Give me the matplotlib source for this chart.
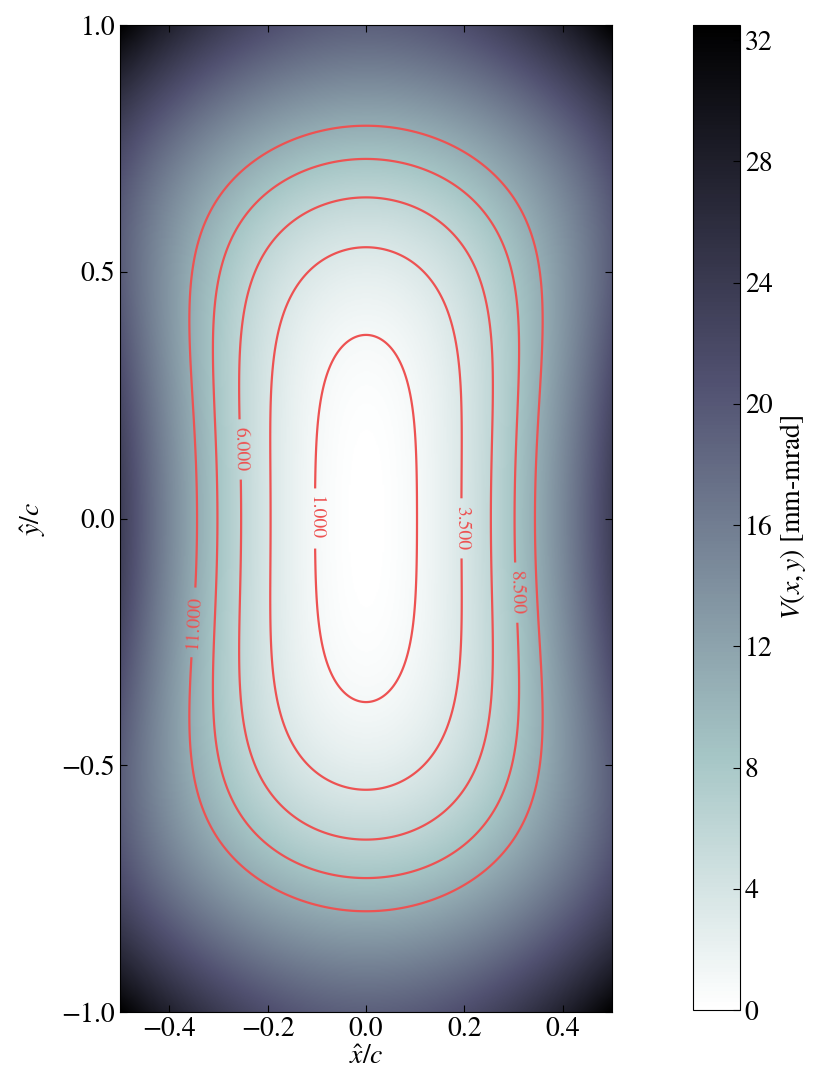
import numpy as np
import matplotlib
matplotlib.use("agg")
import matplotlib.pyplot as plt

plt.rcParams["font.family"] = "serif"
plt.rcParams["font.serif"] = ["STIXGeneral", "Liberation Serif", "DejaVu Serif"]
plt.rcParams["mathtext.fontset"] = "stix"
plt.rcParams["xtick.direction"] = "in"
plt.rcParams["ytick.direction"] = "in"
plt.rcParams["xtick.top"] = True
plt.rcParams["ytick.right"] = True

# contour levels drawn in the picture
levels = [1.0, 3.5, 6.0, 8.5, 11.0]

# points (first quadrant, field is symmetric)
pts_x = [0.0, 0.085, 0.10, 0.10,
         0.0, 0.089, 0.156, 0.189, 0.190,
         0.0, 0.169, 0.240, 0.252, 0.249,
         0.0, 0.266, 0.303, 0.308, 0.299,
         0.0, 0.161, 0.337, 0.362, 0.356, 0.337]
pts_y = [0.35, 0.25, 0.11, 0.0,
         0.54, 0.518, 0.422, 0.25, 0.0,
         0.65, 0.584, 0.50, 0.25, 0.0,
         0.73, 0.584, 0.50, 0.25, 0.0,
         0.793, 0.761, 0.584, 0.50, 0.28, 0.0]
pts_v = [1.0] * 4 + [3.5] * 5 + [6.0] * 5 + [8.5] * 5 + [11.0] * 6

# values
edge_x = [0.5, 0.0, 0.5, 0.5]
edge_y = [0.0, 1.0, 1.0, 0.5]
edge_v = [23.0, 19.0, 32.5, 20.0]

cbar_ticks = [0, 4, 8, 12, 16, 20, 24, 28, 32]
x_ticks = [-0.4, -0.2, 0.0, 0.2, 0.4]
y_ticks = [-1.0, -0.5, 0.0, 0.5, 1.0]


def terms(x, y):
    x2, y2 = x ** 2, y ** 2
    return np.stack([x2, x2 * y2, x2 * y2 ** 2, x2 ** 2, y2, y2 ** 2, y2 ** 3], axis=-1)


sx = np.array(pts_x + edge_x)
sy = np.array(pts_y + edge_y)
sv = np.array(pts_v + edge_v)
coef, *_ = np.linalg.lstsq(terms(sx, sy), sv, rcond=None)

xg = np.linspace(-0.5, 0.5, 401)
yg = np.linspace(-1.0, 1.0, 801)
X, Y = np.meshgrid(xg, yg)
V = terms(X, Y) @ coef

fig = plt.figure(figsize=(8.21, 10.78), dpi=100)
ax = fig.add_axes([120 / 821, 66 / 1078, 492 / 821, 987 / 1078])
cax = fig.add_axes([693 / 821, 68 / 1078, 47 / 821, 985 / 1078])

im = ax.imshow(V, extent=[-0.5, 0.5, -1.0, 1.0], origin="lower", cmap="bone_r",
               vmin=0, vmax=V.max(), aspect="auto", interpolation="bilinear")
cs = ax.contour(X, Y, V, levels=levels, colors=[(0.93, 0.32, 0.32)], linewidths=1.6)
ax.clabel(cs, fmt="%.3f", fontsize=14, inline=True, inline_spacing=8,
          manual=[(-0.1, 0.0), (0.19, -0.02), (-0.25, 0.14), (0.31, -0.15), (-0.36, -0.21)])

ax.set_xlim(-0.5, 0.5)
ax.set_ylim(-1.0, 1.0)
ax.set_xticks(x_ticks)
ax.set_yticks(y_ticks)
ax.tick_params(labelsize=20, length=5)
ax.set_xlabel(r"$\hat{x}/c$", fontsize=20, labelpad=2)
ax.set_ylabel(r"$\hat{y}/c$", fontsize=20, labelpad=10)

cb = fig.colorbar(im, cax=cax)
cb.set_ticks(cbar_ticks)
cb.ax.tick_params(labelsize=20, direction="in", length=5)
cb.set_label(r"$V(x,y)$ [mm-mrad]", fontsize=20)

fig.savefig("out.png", dpi=100)
